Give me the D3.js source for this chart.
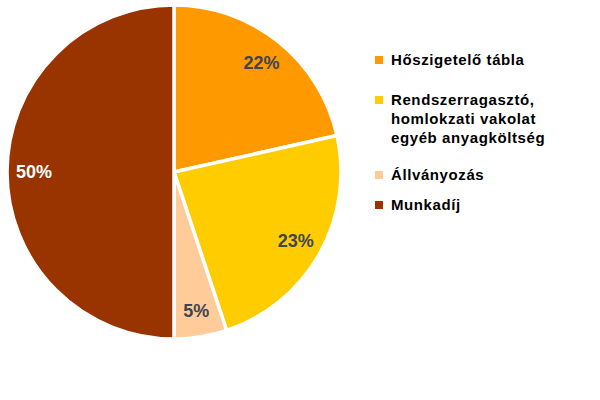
<!DOCTYPE html>
<html><head><meta charset="utf-8">
<script src="https://cdn.jsdelivr.net/npm/d3@7"></script>
<style>body{margin:0;background:#fff}svg{display:block}</style>
</head><body>
<script>
const categories = ["Hőszigetelő tábla", "Rendszerragasztó, homlokzati vakolat egyéb anyagköltség", "Állványozás", "Munkadíj"];
const legendLines = [["Hőszigetelő tábla"], ["Rendszerragasztó,", "homlokzati vakolat", "egyéb anyagköltség"], ["Állványozás"], ["Munkadíj"]];
const values = [21.5, 23.4, 5.1, 50.0];
const colors = ["#FF9900", "#FFCC00", "#FFCC99", "#993300"];
const labelColors = ["#404552", "#404552", "#404552", "#FFFFFF"];

const W = 600, H = 400;
const cx = 174, cy = 172, R = 167;
const svg = d3.select("body").append("svg").attr("width", W).attr("height", H);

const pie = d3.pie().sort(null).value(d => d)(values);
const arc = d3.arc().innerRadius(0).outerRadius(R);
const labelArc = d3.arc().innerRadius(140).outerRadius(140);

const g = svg.append("g").attr("transform", `translate(${cx},${cy})`);
g.selectAll("path").data(pie).join("path")
  .attr("d", arc).attr("fill", (d, i) => colors[i])
  .attr("stroke", "#fff").attr("stroke-width", 3.5).attr("stroke-linejoin", "round");

g.selectAll("text").data(pie).join("text")
  .attr("transform", d => `translate(${labelArc.centroid(d)})`)
  .attr("text-anchor", "middle").attr("dy", "0.35em")
  .attr("font-family", "Liberation Sans, Arial, sans-serif")
  .attr("font-weight", "bold").attr("font-size", 18)
  .attr("fill", (d, i) => labelColors[i])
  .text(d => Math.round(d.data) + "%");

const legend = svg.append("g").attr("font-family", "Liberation Sans, Arial, sans-serif")
  .attr("font-weight", "bold").attr("font-size", 15).attr("fill", "#000");
const legendY = [60, 100, 175, 205];
legendLines.forEach((lines, i) => {
  legend.append("rect").attr("x", 375).attr("y", legendY[i] - 4).attr("width", 8).attr("height", 8).attr("fill", colors[i]);
  lines.forEach((t, j) => {
    legend.append("text").attr("x", 391).attr("y", legendY[i] + j * 19).attr("dy", "0.35em")
      .attr("letter-spacing", 0.6).text(t);
  });
});
</script>
</body></html>
